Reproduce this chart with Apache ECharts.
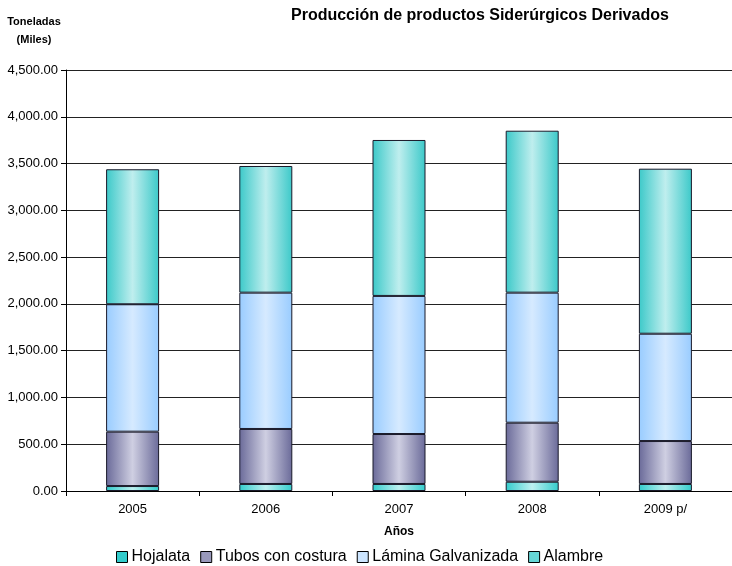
<!DOCTYPE html>
<html>
<head>
<meta charset="utf-8">
<script src="https://cdn.jsdelivr.net/npm/echarts@6/dist/echarts.min.js"></script>
<style>
html,body{margin:0;padding:0;background:#fff;}
#main{width:732px;height:566px;}
</style>
</head>
<body>
<div id="main"></div>
<script>
// datos (miles de toneladas)
var anios = ['2005', '2006', '2007', '2008', '2009 p/'];
var hojalata = [53, 75, 75, 99, 75];
var tubos = [581, 588, 534, 631, 459];
var lamina = [1362, 1457, 1476, 1390, 1147];
var alambre = [1443, 1354, 1667, 1731, 1764];

// relleno "desde el centro" aproximado
function relleno(borde, centro){
	return {
		type: 'linear', x: 0, y: 0, x2: 1, y2: 0,
		colorStops: [
			{offset: 0, color: borde},
			{offset: 0.5, color: centro},
			{offset: 1, color: borde}
		]
	};
}

function serie(nombre, datos, borde, centro){
	return {
		name: nombre,
		type: 'bar',
		stack: 'total',
		barWidth: 53,
		data: datos,
		itemStyle: {
			color: relleno(borde, centro),
			borderColor: '#1a1a2a',
			borderWidth: 1
		}
	};
}

var myChart = echarts.init(document.getElementById('main'));
var fuente = 'Liberation Sans, Arial, sans-serif';

var option = {
	animation: false,
	textStyle: {fontFamily: fuente},
	title: {
		text: 'Producción de productos Siderúrgicos Derivados',
		left: 286,
		top: 3,
		textStyle: {fontSize: 16, fontWeight: 'bold', color: '#000', fontFamily: fuente}
	},
	legend: {
		top: 544,
		left: 111,
		itemWidth: 11,
		itemHeight: 11,
		itemGap: 10,
		icon: 'rect',
		textStyle: {fontSize: 16, color: '#000', fontFamily: fuente, padding: [0, 0, 0, -1]},
		data: [
			{name: 'Hojalata', itemStyle: {color: '#33cccc', borderColor: '#000', borderWidth: 1}},
			{name: 'Tubos con costura', itemStyle: {color: '#9999bb', borderColor: '#000', borderWidth: 1}},
			{name: 'Lámina Galvanizada', itemStyle: {color: '#cce5ff', borderColor: '#000', borderWidth: 1}},
			{name: 'Alambre', itemStyle: {color: '#66d6d6', borderColor: '#000', borderWidth: 1}}
		]
	},
	grid: {left: 66, right: 0, top: 70, bottom: 75},
	xAxis: {
		type: 'category',
		data: anios,
		name: 'Años',
		nameLocation: 'middle',
		nameGap: 35,
		nameTextStyle: {fontSize: 12, fontWeight: 'bold', color: '#000'},
		axisLine: {lineStyle: {color: '#000', width: 1}},
		axisTick: {show: true, length: 5, lineStyle: {color: '#000'}},
		axisLabel: {fontSize: 13, color: '#000', margin: 12}
	},
	yAxis: {
		type: 'value',
		min: 0,
		max: 4500,
		interval: 500,
		axisLine: {show: true, lineStyle: {color: '#000', width: 1}},
		axisTick: {show: true, length: 5, lineStyle: {color: '#000'}},
		splitLine: {lineStyle: {color: '#222', width: 1}},
		axisLabel: {
			fontSize: 13,
			color: '#000',
			margin: 8,
			formatter: function(v){
				return v.toLocaleString('en-US', {minimumFractionDigits: 2, maximumFractionDigits: 2});
			}
		}
	},
	graphic: [{
		type: 'text',
		x: 34,
		y: 13,
		style: {
			text: 'Toneladas\n(Miles)',
			textAlign: 'center',
			fill: '#000',
			font: 'bold 11px Liberation Sans, Arial, sans-serif',
			lineHeight: 18
		}
	}],
	series: [
		serie('Hojalata', hojalata, '#33cccc', '#bdf0f0'),
		serie('Tubos con costura', tubos, '#6a6a99', '#cfcfe2'),
		serie('Lámina Galvanizada', lamina, '#99ccff', '#d6eaff'),
		serie('Alambre', alambre, '#3cc9c9', '#bfeeee')
	]
};

myChart.setOption(option);
</script>
</body>
</html>
